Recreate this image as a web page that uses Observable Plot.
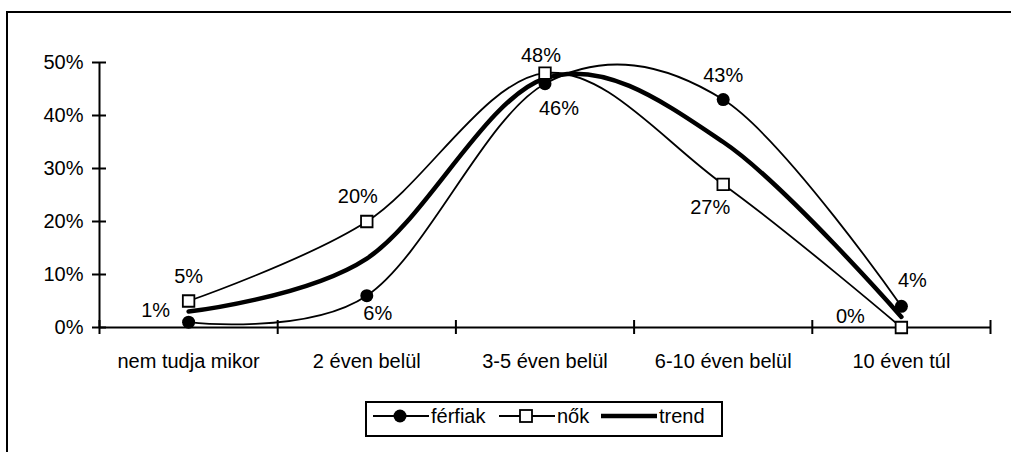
<!DOCTYPE html>
<html><head><meta charset="utf-8">
<script src="https://cdn.jsdelivr.net/npm/d3@7"></script>
<script src="https://cdn.jsdelivr.net/npm/@observablehq/plot@0.6"></script>
<style>
html,body{margin:0;padding:0;background:#fff;}
body{width:1011px;height:452px;position:relative;overflow:hidden;font-family:"Liberation Sans",Arial,sans-serif;}
#frame{position:absolute;left:6px;top:11px;width:1100px;height:500px;border-left:2px solid #000;border-top:2px solid #000;}
#chart{position:absolute;left:0;top:0;}
#legend{position:absolute;left:365px;top:401px;width:354px;height:32px;border:2px solid #000;background:#fff;}
#legend svg{position:absolute;left:0;top:0;}
</style></head>
<body>
<div id="frame"></div>
<div id="chart"></div>
<div id="legend"></div>
<script>
const categories = ["nem tudja mikor", "2 éven belül", "3-5 éven belül", "6-10 éven belül", "10 éven túl"];
const ferfiak = [0.01, 0.06, 0.46, 0.43, 0.04];
const nok = [0.05, 0.20, 0.48, 0.27, 0.00];
const trend = [0.03, 0.13, 0.47, 0.35, 0.02];
const yTicks = [0, 0.1, 0.2, 0.3, 0.4, 0.5];
const ferfiakLabelOffsets = [[-33,-12],[11,18],[14,25],[0,-24],[11,-26]];
const nokLabelOffsets = [[0,-24],[-9,-25],[-4,-18],[-13,23],[-51,-11]];

const pos = categories.map((c, i) => i + 0.5);
const fData = categories.map((c, i) => ({x: pos[i], y: ferfiak[i], dx: ferfiakLabelOffsets[i][0], dy: ferfiakLabelOffsets[i][1]}));
const nData = categories.map((c, i) => ({x: pos[i], y: nok[i], dx: nokLabelOffsets[i][0], dy: nokLabelOffsets[i][1]}));
const tData = categories.map((c, i) => ({x: pos[i], y: trend[i]}));
const xBounds = d3.range(categories.length + 1);
const pct = d3.format(".0%");
const FS = 20;

const labelMarks = (data) => data.map(d => Plot.text([d], {x: "x", y: "y", text: d => pct(d.y), dx: d.dx, dy: d.dy, fontSize: FS, fill: "#000"}));

const plot = Plot.plot({
  width: 1011, height: 395,
  marginLeft: 99, marginRight: 21, marginTop: 62, marginBottom: 68,
  style: {fontFamily: "'Liberation Sans', Arial, sans-serif", background: "transparent"},
  x: {type: "linear", domain: [0, categories.length], axis: null},
  y: {domain: [0, 0.5], axis: null},
  marks: [
    Plot.ruleY([0], {stroke: "#000", strokeWidth: 2}),
    Plot.ruleX([0], {stroke: "#000", strokeWidth: 2}),
    Plot.ruleX(xBounds, {x: d => d, y1: 0, y2: 0, insetTop: -7, insetBottom: -7, stroke: "#000", strokeWidth: 2}),
    Plot.ruleY(yTicks, {y: d => d, x1: 0, x2: 0, insetLeft: -7, insetRight: -7, stroke: "#000", strokeWidth: 2}),
    Plot.text(yTicks, {x: 0, y: d => d, text: d => pct(d), textAnchor: "end", dx: -16, fontSize: FS, fill: "#000"}),
    Plot.text(categories, {x: (d, i) => pos[i], y: 0, text: d => d, dy: 34, fontSize: FS, fill: "#000"}),
    Plot.line(fData, {x: "x", y: "y", curve: "cardinal", stroke: "#000", strokeWidth: 1.8}),
    Plot.line(nData, {x: "x", y: "y", curve: "cardinal", stroke: "#000", strokeWidth: 1.8}),
    Plot.line(tData, {x: "x", y: "y", curve: "cardinal", stroke: "#000", strokeWidth: 4.5}),
    Plot.dot(fData, {x: "x", y: "y", r: 6.5, fill: "#000", stroke: "none"}),
    Plot.dot(nData, {x: "x", y: "y", symbol: "square", r: 6.5, fill: "#fff", stroke: "#000", strokeWidth: 1.8}),
    ...labelMarks(fData),
    ...labelMarks(nData)
  ]
});
document.getElementById("chart").append(plot);

// legend
const legendItems = [
  {label: "férfiak", kind: "circle", start: 6},
  {label: "nők", kind: "square", start: 132},
  {label: "trend", kind: "thick", start: 234}
];
const lsvg = d3.create("svg").attr("width", 354).attr("height", 32)
  .style("font-family", "'Liberation Sans', Arial, sans-serif");
legendItems.forEach((it) => {
  const g = lsvg.append("g").attr("transform", `translate(${it.start},13)`);
  g.append("line").attr("x1", 0).attr("x2", 56).attr("y1", 0).attr("y2", 0)
    .attr("stroke", "#000").attr("stroke-width", it.kind === "thick" ? 4.5 : 1.8);
  if (it.kind === "circle") g.append("circle").attr("cx", 27).attr("cy", 0).attr("r", 6.5).attr("fill", "#000");
  if (it.kind === "square") g.append("rect").attr("x", 21).attr("y", -6).attr("width", 12).attr("height", 12).attr("fill", "#fff").attr("stroke", "#000").attr("stroke-width", 1.8);
  g.append("text").attr("x", 58).attr("y", 0).attr("dy", "0.35em").attr("font-size", FS).text(it.label);
});
document.getElementById("legend").append(lsvg.node());
</script>
</body></html>
